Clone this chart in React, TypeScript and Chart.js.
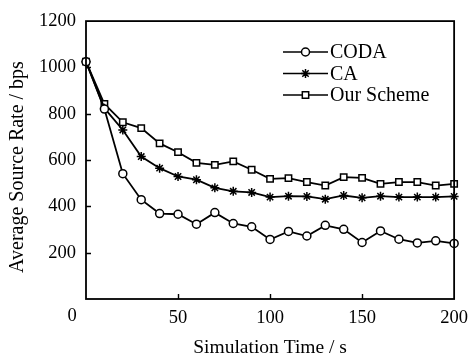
import React, { useEffect, useRef } from "react";
import { Chart, registerables } from "chart.js";
import { drawPoint } from "chart.js/helpers";

Chart.register(...registerables);

const xValues = [0, 10, 20, 30, 40, 50, 60, 70, 80, 90, 100, 110, 120, 130, 140, 150, 160, 170, 180, 190, 200];
const codaValues = [1025, 820, 541, 429, 369, 366, 323, 373, 326, 312, 257, 292, 272, 318, 301, 244, 294, 258, 242, 251, 240];
const caValues = [1025, 824, 730, 615, 565, 529, 515, 480, 465, 460, 440, 444, 443, 431, 447, 437, 444, 440, 440, 440, 443];
const schemeValues = [1025, 842, 763, 738, 672, 634, 588, 579, 594, 558, 519, 522, 505, 490, 526, 523, 497, 505, 505, 490, 497];
const seriesLabels = ["CODA", "CA", "Our Scheme"];
const xTitle = "Simulation Time / s";
const yTitle = "Average Source Rate / bps";

const FONT = "'Liberation Serif', 'Times New Roman', serif";

export default function App() {
  const ref = useRef<HTMLCanvasElement | null>(null);
  useEffect(() => {
    if (!ref.current) return;
    const mk = (vals: number[]) => xValues.map((x, i) => ({ x, y: vals[i] }));
    const styles = [
      { pointStyle: "circle", radius: 4 },
      { pointStyle: "star", radius: 4.5 },
      { pointStyle: "rect", radius: 4.5 },
    ];
    const frame = {
      id: "frame",
      afterDraw(chart: any) {
        const { ctx, chartArea } = chart;
        const { left, right, top, bottom } = chartArea;
        const xs = chart.scales.x;
        const ys = chart.scales.y;
        ctx.save();
        ctx.strokeStyle = "#000";
        ctx.lineWidth = 1.8;
        ctx.strokeRect(left, top, right - left, bottom - top);
        ctx.lineWidth = 1.4;
        ctx.beginPath();
        for (const v of [200, 400, 600, 800, 1000]) {
          const py = Math.round(ys.getPixelForValue(v)) + 0.5;
          ctx.moveTo(left, py);
          ctx.lineTo(left + 5, py);
        }
        for (const v of [50, 100, 150]) {
          const px = Math.round(xs.getPixelForValue(v)) + 0.5;
          ctx.moveTo(px, bottom);
          ctx.lineTo(px, bottom - 5);
        }
        ctx.stroke();
        ctx.fillStyle = "#000";
        ctx.font = `18.5px ${FONT}`;
        ctx.textAlign = "center";
        ctx.textBaseline = "middle";
        ctx.fillText("0", left - 14, bottom + 17);
        // y title
        ctx.save();
        ctx.translate(18, 167);
        ctx.rotate(-Math.PI / 2);
        ctx.font = `20px ${FONT}`;
        ctx.textAlign = "center";
        ctx.textBaseline = "middle";
        ctx.fillText(yTitle, 0, 0);
        ctx.restore();
        // legend
        const rowY = [52, 73.5, 95];
        chart.data.datasets.forEach((ds: any, i: number) => {
          const y = rowY[i];
          ctx.strokeStyle = "#000";
          ctx.lineWidth = 1.7;
          ctx.beginPath();
          ctx.moveTo(283, y);
          ctx.lineTo(328, y);
          ctx.stroke();
          ctx.fillStyle = "#fff";
          ctx.strokeStyle = "#000";
          ctx.lineWidth = 1.5;
          drawPoint(ctx, { pointStyle: ds.pointStyle, radius: ds.pointRadius, rotation: 0, borderWidth: 1.5 }, 305.5, y);
          ctx.fillStyle = "#000";
          ctx.font = `20px ${FONT}`;
          ctx.textAlign = "left";
          ctx.textBaseline = "middle";
          ctx.fillText(ds.label, 330, y + 1);
        });
        ctx.restore();
      },
    };
    const chart = new Chart(ref.current, {
      type: "line",
      data: {
        datasets: [codaValues, caValues, schemeValues].map((vals, i) => ({
          label: seriesLabels[i],
          data: mk(vals),
          borderColor: "#000",
          borderWidth: 1.8,
          backgroundColor: "#fff",
          pointBackgroundColor: "#fff",
          pointBorderColor: "#000",
          pointBorderWidth: 1.5,
          pointStyle: styles[i].pointStyle as any,
          pointRadius: styles[i].radius,
          tension: 0,
          clip: false as any,
        })),
      },
      options: {
        animation: false,
        responsive: false,
        events: [],
        layout: { padding: { top: 20, right: 16, left: 0, bottom: 0 } },
        plugins: { legend: { display: false }, tooltip: { enabled: false } },
        scales: {
          x: {
            type: "linear",
            min: 0,
            max: 200,
            grid: { display: false, drawTicks: false },
            border: { display: false },
            ticks: {
              stepSize: 50,
              padding: 8,
              color: "#000",
              font: { family: FONT, size: 18.5 },
              maxRotation: 0,
              callback: (v: any) => (v === 0 ? "" : String(v)),
            },
            title: {
              display: true,
              text: xTitle,
              color: "#000",
              font: { family: FONT, size: 19.5, lineHeight: 1 },
              padding: { top: 0, bottom: -2 },
            },
            afterFit: (s: any) => {
              s.height = 57;
            },
          },
          y: {
            type: "linear",
            min: 0,
            max: 1200,
            grid: { display: false, drawTicks: false },
            border: { display: false },
            ticks: {
              stepSize: 200,
              padding: 10,
              color: "#000",
              font: { family: FONT, size: 18.5 },
              callback: (v: any) => (v === 0 ? "" : String(v)),
            },
            title: { display: false },
            afterFit: (s: any) => {
              s.width = 86;
            },
          },
        },
      },
      plugins: [frame],
    });
    return () => chart.destroy();
  }, []);
  return (
    <div style={{ position: "fixed", left: 0, top: 0, width: 476, height: 356, background: "#fff" }}>
      <canvas ref={ref} width={476} height={356} />
    </div>
  );
}
